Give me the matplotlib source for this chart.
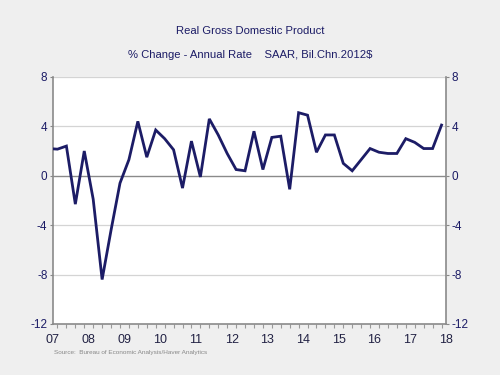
import numpy as np
import matplotlib
matplotlib.use("Agg")
from matplotlib import pyplot as plt

plt.rcParams['font.family'] = ['Liberation Sans', 'DejaVu Sans']

# quarterly GDP, % change SAAR, 2007Q2 .. 2018Q2
start_year = 2007
start_quarter = 2
gdp = [2.2, 2.15, 2.4,
       -2.3, 2.0, -1.9, -8.4,
       -4.4, -0.6, 1.3, 4.4,
       1.5, 3.7, 3.0, 2.1,
       -1.0, 2.8, -0.1, 4.6,
       3.3, 1.8, 0.5, 0.4,
       3.6, 0.5, 3.1, 3.2,
       -1.1, 5.1, 4.9, 1.9,
       3.3, 3.3, 1.0, 0.4,
       1.3, 2.2, 1.9, 1.8,
       1.8, 3.0, 2.7, 2.2,
       2.2, 4.1]
years = list(range(2007, 2019))
year_labels = ["%02d" % (y % 100) for y in years]
y_ticks = [8, 4, 0, -4, -8, -12]

navy = "#1c1c66"
bg = "#efefef"

# quarter index, 2007Q1 = 0
x = np.arange(len(gdp)) + (start_quarter - 1)

fig = plt.figure(figsize=(5, 3.75), dpi=100, facecolor=bg)
ax = fig.add_axes([0.106, 0.136, 0.786, 0.659])
ax.set_facecolor("white")

for v in y_ticks:
    if v == 0:
        ax.axhline(v, color="#8a8a8a", lw=1.0, zorder=1)
    elif v != -12:
        ax.axhline(v, color="#d4d4d4", lw=0.9, zorder=1)

ax.plot(x, gdp, color=navy, lw=2.0, zorder=3, solid_joinstyle="miter")

ax.set_xlim(1.5, 45.5)
ax.set_ylim(-12, 8)

# year labels centred on each year, quarter ticks
ax.set_xticks([4 * (y - 2007) + 1.5 for y in years])
ax.set_xticklabels(year_labels, fontsize=9, color="#222244")
ax.set_xticks(np.arange(2, 46), minor=True)
ax.tick_params(axis="x", which="major", length=0, pad=7)
ax.tick_params(axis="x", which="minor", length=3, color="#999999", width=0.8)

ax.set_yticks(y_ticks)
ax.set_yticklabels([str(v) for v in y_ticks], fontsize=8.5, color=navy)
ax.tick_params(axis="y", which="major", length=2, color="#888888", pad=2,
               left=True, right=True, labelleft=True, labelright=True)

for side in ["left", "right", "bottom"]:
    ax.spines[side].set_color("#8a8a8a")
    ax.spines[side].set_linewidth(1.2)
ax.spines["top"].set_visible(False)

fig.text(0.5, 0.918, "Real Gross Domestic Product", ha="center", va="center",
         fontsize=8.1, color=navy)
fig.text(0.5, 0.852, "% Change - Annual Rate    SAAR, Bil.Chn.2012$", ha="center",
         va="center", fontsize=8.1, color=navy)
fig.text(0.108, 0.061, "Source:  Bureau of Economic Analysis/Haver Analytics",
         ha="left", va="center", fontsize=4.6, color="#888888")

fig.savefig("out.png", dpi=100, facecolor=bg)
